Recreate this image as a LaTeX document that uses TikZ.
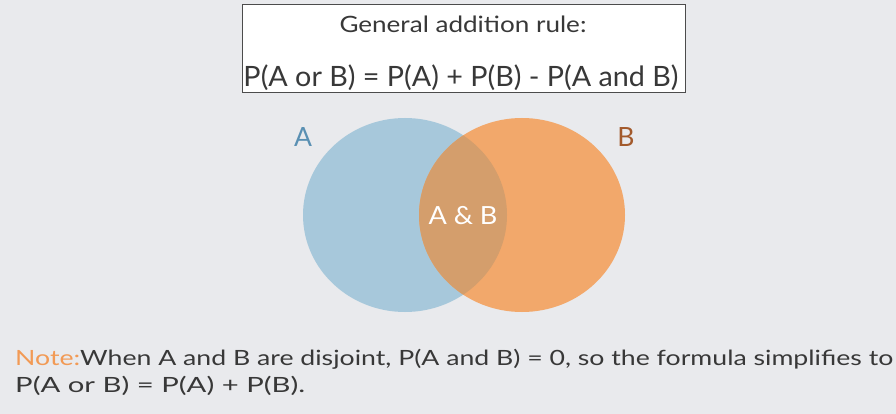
\documentclass[tikz,border=0pt]{standalone}
\usepackage{fontspec}
\setmainfont{Lato}
\usepackage{graphicx}
\usetikzlibrary{positioning}
\definecolor{bgray}{HTML}{E9EAED}
\definecolor{setA}{HTML}{A7C8DB}
\definecolor{setB}{HTML}{F2A86B}
\definecolor{setAB}{HTML}{D49E6C}
\definecolor{labA}{HTML}{5A90B3}
\definecolor{labB}{HTML}{A35A2C}
\definecolor{notec}{HTML}{F29A55}
\definecolor{txt}{HTML}{383838}
\newcommand{\fitw}[2]{\resizebox{#1}{\height}{#2}}

\begin{document}
\begin{tikzpicture}[x=1pt,y=-1pt,
    txtnode/.style={inner sep=0pt,text=txt},
    setlabel/.style={inner sep=0pt,anchor=base,font=\fontsize{26.5}{30}\selectfont}]
        \fill[bgray] (0,0) rectangle (896,414);
        % rule box
        \draw[black!70,fill=white,line width=0.9pt] (242,4) rectangle (685,92);
        \node[txtnode,anchor=base,font=\fontsize{22.5}{26}\selectfont] (title) at (463,33) {\fitw{247pt}{General addition rule:}};
        \node[txtnode,anchor=base,font=\fontsize{28}{32}\selectfont] (formula) at (461,87) {\fitw{435pt}{P(A or B) = P(A) + P(B) - P(A and B)}};
        % venn
        \fill[setA] (405,215) ellipse (102 and 97);
        \fill[setB] (522,215) ellipse (103 and 97);
        \begin{scope}
            \clip (405,215) ellipse (102 and 97);
            \fill[setAB] (522,215) ellipse (103 and 97);
        \end{scope}
        \node[setlabel,text=labA] (labelA) at (303,147) {A};
        \node[setlabel,text=labB] (labelB) at (626,147) {B};
        \node[txtnode,anchor=base,text=white,font=\fontsize{25}{28}\selectfont] (both) at (463,225) {\fitw{69pt}{A \& B}};
        % note
        \node[txtnode,anchor=base west,font=\fontsize{21}{24}\selectfont] (note1) at (15,365) {\fitw{878pt}{\textcolor{notec}{Note:}When A and B are disjoint, P(A and B) = 0, so the formula simplifies to}};
        \node[txtnode,anchor=base west,font=\fontsize{21}{24}\selectfont] (note2) at (15,392) {\fitw{290pt}{P(A or B) = P(A) + P(B).}};
\end{tikzpicture}
\end{document}
